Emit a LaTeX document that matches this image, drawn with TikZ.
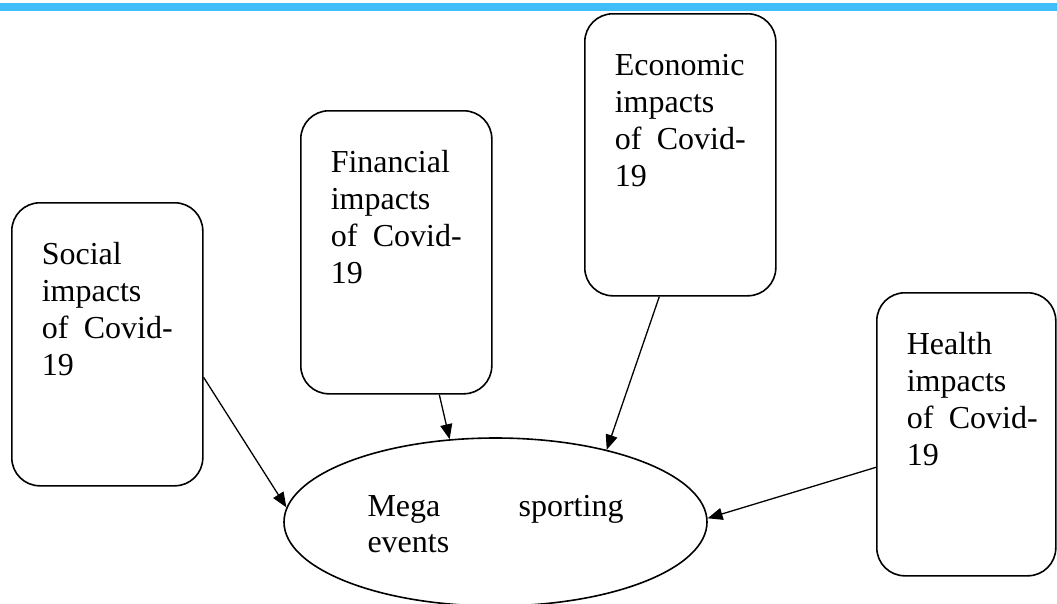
\documentclass[tikz,border=0pt]{standalone}
\usepackage{fontspec}
\setmainfont{Liberation Serif}
\usetikzlibrary{arrows.meta,shapes.geometric,calc}
\definecolor{barblue}{RGB}{65,190,250}
\newcommand{\covline}{\makebox[131pt][s]{of\hfill Covid-}}
\begin{document}
\begin{tikzpicture}[x=1pt,y=-1pt,
  impactbox/.style={draw, line width=1.6pt, rounded corners=28pt, anchor=north west,
    inner xsep=30pt, inner ysep=0pt, text width=131pt, align=left,
    text height=62pt, font=\fontsize{32}{36.8}\selectfont},
  megaell/.style={draw, line width=1.6pt, ellipse, minimum width=423pt, minimum height=168pt,
    inner sep=0pt, text width=256pt, align=left, text height=28pt, text depth=40pt,
    font=\fontsize{32}{36.8}\selectfont},
  conn/.style={line width=1.3pt, -{Triangle[length=15pt,width=12pt]}}]
\useasboundingbox (0,0) rectangle (1057,603);
\fill[barblue] (0,3) rectangle (1057,11);

\node[impactbox, text depth=221pt] (soc) at (11,202) {Social\\impacts\\\covline\\19};
\node[impactbox, text depth=221pt] (fin) at (300,110) {Financial\\impacts\\\covline\\19};
\node[impactbox, text depth=220pt] (eco) at (584,13) {Economic\\impacts\\\covline\\19};
\node[impactbox, text depth=221pt, text width=119pt] (hea) at (876,292) {Health\\impacts\\\covline\\19};

\node[megaell] (mega) at (495.5,522) {\makebox[256pt][s]{Mega\hfill sporting}\\events};

\coordinate (s1) at ($(soc.east)+(0,33)$);
\coordinate (f1) at ($(fin.south)+(43,0)$);
\coordinate (e1) at ($(eco.south)+(-21,0)$);
\coordinate (h1) at ($(hea.west)+(0,33)$);

\draw[conn] (s1) -- (mega.176);
\draw[conn] (f1) -- (mega.119.5);
\draw[conn] (e1) -- (mega.33);
\draw[conn] (h1) -- (mega.1.5);
\end{tikzpicture}
\end{document}
